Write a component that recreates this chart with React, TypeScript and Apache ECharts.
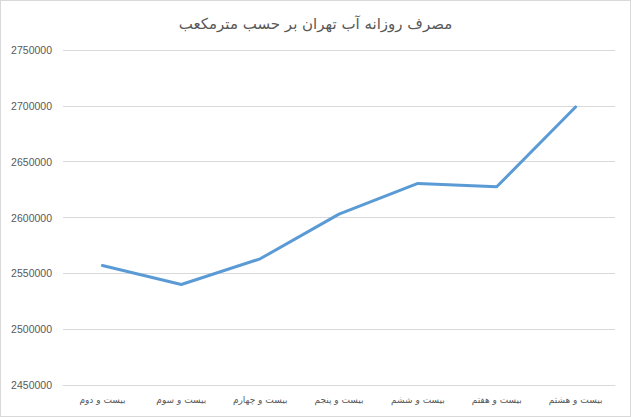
import React, { useEffect, useRef } from 'react';
import * as echarts from 'echarts';

const chartTitle = 'مصرف روزانه آب تهران بر حسب مترمکعب';
const days = [
  'بیست و دوم',
  'بیست و سوم',
  'بیست و چهارم',
  'بیست و پنجم',
  'بیست و ششم',
  'بیست و هفتم',
  'بیست و هشتم',
];
const consumption = [2557000, 2540000, 2563000, 2603000, 2630500, 2627500, 2699000];

const App: React.FC = () => {
  const chartRef = useRef<HTMLDivElement>(null);

  useEffect(() => {
    document.body.style.margin = '0';
    if (!chartRef.current) return;
    const chart = echarts.init(chartRef.current, undefined, { renderer: 'svg' });

    const option: echarts.EChartsOption = {
      animation: false,
      backgroundColor: '#ffffff',
      title: {
        text: chartTitle,
        left: 'center',
        top: 10,
        textStyle: {
          fontFamily: 'Tahoma, "DejaVu Sans", sans-serif',
          fontSize: 15,
          fontWeight: 'normal',
          color: '#595959',
        },
      },
      grid: { left: 62, right: 15, top: 49, bottom: 31 },
      xAxis: {
        type: 'category',
        data: days,
        boundaryGap: true,
        axisLine: { lineStyle: { color: '#d9d9d9', width: 1 } },
        axisTick: { show: false },
        axisLabel: {
          color: '#595959',
          fontSize: 9,
          margin: 10,
          fontFamily: 'Tahoma, "DejaVu Sans", sans-serif',
        },
      },
      yAxis: {
        type: 'value',
        min: 2450000,
        max: 2750000,
        interval: 50000,
        axisLine: { show: false },
        axisTick: { show: false },
        splitLine: { lineStyle: { color: '#d9d9d9', width: 1 } },
        axisLabel: {
          color: '#595959',
          fontSize: 10.5,
          margin: 11,
          fontFamily: 'Arial, "Liberation Sans", sans-serif',
          formatter: (v: number) => String(v),
        },
      },
      series: [
        {
          type: 'line',
          data: consumption,
          showSymbol: false,
          symbol: 'none',
          lineStyle: { color: '#5b9bd5', width: 3, cap: 'round', join: 'round' },
        },
      ],
    };

    chart.setOption(option);
    return () => {
      chart.dispose();
    };
  }, []);

  return (
    <div
      style={{
        position: 'absolute',
        left: 0,
        top: 0,
        width: 631,
        height: 417,
        boxSizing: 'border-box',
        border: '1px solid #d9d9d9',
        background: '#fff',
      }}
    >
      <div ref={chartRef} style={{ width: 629, height: 415 }} />
    </div>
  );
};

export default App;
